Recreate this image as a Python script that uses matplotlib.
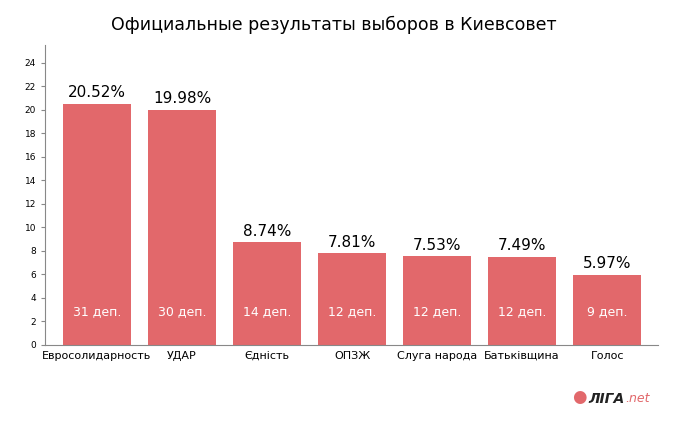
import matplotlib
matplotlib.use("Agg")
import matplotlib.pyplot as plt

parties = ["Евросолидарность", "УДАР", "Єдність", "ОПЗЖ", "Слуга народа", "Батьківщина", "Голос"]
percents = [20.52, 19.98, 8.74, 7.81, 7.53, 7.49, 5.97]
seats = ["31 деп.", "30 деп.", "14 деп.", "12 деп.", "12 деп.", "12 деп.", "9 деп."]
yticks = list(range(0, 25, 2))

color = "#e2686b"
fig = plt.figure(figsize=(6.96, 4.22), dpi=100)
ax = fig.add_axes([0.0647, 0.1825, 0.881, 0.711])
x = list(range(len(parties)))
ax.bar(x, percents, width=0.8, color=color)
for i, (p, s) in enumerate(zip(percents, seats)):
    ax.text(i, p + 0.3, f"{p:.2f}%", ha="center", va="bottom", fontsize=11)
    ax.text(i, 2.8, s, ha="center", va="center", fontsize=9, color="white")

ax.set_xlim(-0.61, 6.6)
ax.set_ylim(0, 25.5)
ax.set_yticks(yticks)
ax.set_xticks(x)
ax.set_xticklabels(parties, fontsize=8)
ax.tick_params(axis="y", labelsize=6.5, length=3, color="#888888")
ax.tick_params(axis="x", length=0, pad=4)
for side in ["top", "right"]:
    ax.spines[side].set_visible(False)
ax.spines["left"].set_color("#888888")
ax.spines["bottom"].set_color("#888888")

fig.text(0.48, 0.94, "Официальные результаты выборов в Киевсовет", ha="center",
         va="center", fontsize=12.5)
fig.text(0.833, 0.06, "●", ha="center", va="center", fontsize=12, color=color)
fig.text(0.898, 0.055, "ЛІГА", ha="right", va="center", fontsize=10,
         fontweight="bold", style="italic", color="#222222")
fig.text(0.898, 0.055, ".net", ha="left", va="center", fontsize=9,
         style="italic", color=color)
fig.savefig("out.png", dpi=100)
